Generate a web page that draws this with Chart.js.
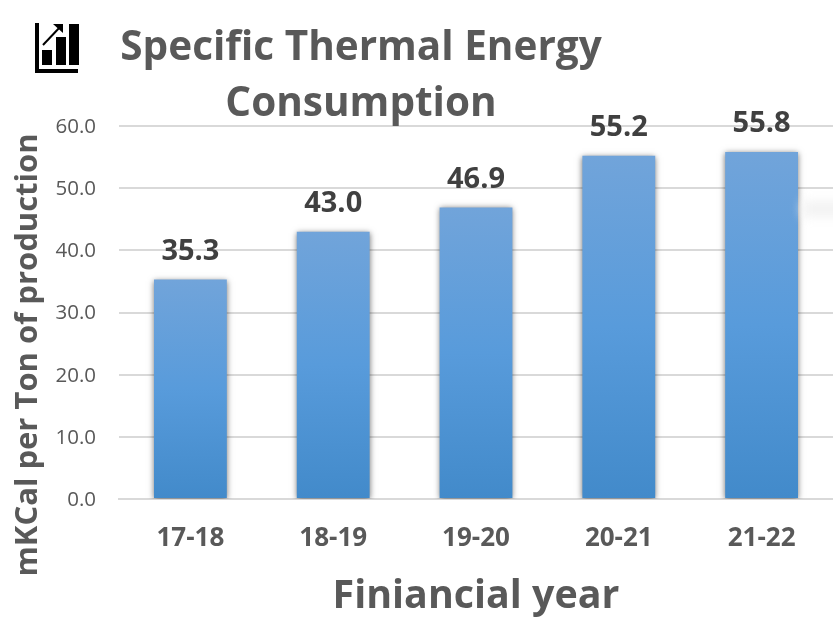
<!DOCTYPE html>
<html>
<head>
<meta charset="utf-8">
<title>Specific Thermal Energy Consumption</title>
<script src="https://cdn.jsdelivr.net/npm/chart.js@4"></script>
<style>
    html, body { margin: 0; padding: 0; background: #fff; }
    #wrap { position: relative; width: 833px; height: 620px; overflow: hidden; }
    #icon { position: absolute; left: 35px; top: 23px; }
    #smudge { position: absolute; left: 802px; top: 202px; width: 50px; height: 14px; background: #f1f1f1; filter: blur(6px); }
</style>
</head>
<body>
<div id="wrap">
    <canvas id="energyChart" width="833" height="620"></canvas>
    <div id="smudge"></div>
    <svg id="icon" width="45" height="50" viewBox="0 0 45 50">
        <path d="M2 0V48H43" fill="none" stroke="#000" stroke-width="4"/>
        <rect x="7" y="27" width="10" height="15"/>
        <rect x="21" y="14" width="10" height="28"/>
        <rect x="34" y="1" width="10" height="41"/>
        <path d="M8 22L26 3" fill="none" stroke="#000" stroke-width="2"/>
        <path d="M18 1H28V10Z"/>
    </svg>
</div>
<script>
const titleLines = ['Specific Thermal Energy', 'Consumption'];
const yAxisLabel = 'mKCal per Ton of production';
const xAxisLabel = 'Finiancial year';
const years = ['17-18', '18-19', '19-20', '20-21', '21-22'];
const consumption = [35.3, 43.0, 46.9, 55.2, 55.8];

const fontFamily = '"Open Sans", "Noto Sans", sans-serif';

// top-to-bottom blue fade, one gradient per bar
function barGradient(context) {
    const { chart, parsed } = context;
    if (!parsed || !chart.chartArea) return '#5b9bd5';
    const top = chart.scales.y.getPixelForValue(parsed.y);
    const bottom = chart.scales.y.getPixelForValue(0);
    const grad = chart.ctx.createLinearGradient(0, top, 0, bottom);
    grad.addColorStop(0, '#71a4da');
    grad.addColorStop(0.5, '#589bdb');
    grad.addColorStop(1, '#428aca');
    return grad;
}

const barShadow = {
    id: 'barShadow',
    beforeDatasetDraw(chart) {
        const ctx = chart.ctx;
        ctx.save();
        ctx.shadowColor = 'rgba(0,0,0,0.55)';
        ctx.shadowBlur = 6;
        ctx.shadowOffsetY = 1;
    },
    afterDatasetDraw(chart) {
        chart.ctx.restore();
    }
};

// heading, rotated axis label and the value above each bar
const chartText = {
    id: 'chartText',
    afterDraw(chart) {
        const ctx = chart.ctx;
        ctx.save();
        ctx.textAlign = 'center';
        ctx.textBaseline = 'middle';

        ctx.fillStyle = '#595959';
        ctx.font = 'bold 40.5px ' + fontFamily;
        ctx.fillText(titleLines[0], 361, 48);
        ctx.fillText(titleLines[1], 361, 104);

        ctx.save();
        ctx.translate(28, 355);
        ctx.rotate(-Math.PI / 2);
        ctx.font = 'bold 31px ' + fontFamily;
        ctx.fillText(yAxisLabel, 0, 0);
        ctx.restore();

        ctx.fillStyle = '#404040';
        ctx.font = 'bold 29px ' + fontFamily;
        chart.getDatasetMeta(0).data.forEach((bar, i) => {
            ctx.fillText(consumption[i].toFixed(1), bar.x, bar.y - 28);
        });
        ctx.restore();
    }
};

new Chart(document.getElementById('energyChart'), {
    type: 'bar',
    data: {
        labels: years,
        datasets: [{
            data: consumption,
            backgroundColor: barGradient,
            borderWidth: 0,
            categoryPercentage: 1,
            barPercentage: 0.51
        }]
    },
    plugins: [barShadow, chartText],
    options: {
        responsive: false,
        animation: false,
        layout: { padding: { top: 126, right: 0, left: 0, bottom: 0 } },
        plugins: { legend: { display: false }, tooltip: { enabled: false } },
        scales: {
            x: {
                afterFit(scale) { scale.height = 121; },
                grid: { display: false },
                border: { color: '#d9d9d9', width: 2 },
                ticks: {
                    color: '#595959',
                    padding: 16,
                    maxRotation: 0,
                    font: { family: fontFamily, size: 26, weight: 'bold' }
                },
                title: {
                    display: true,
                    text: xAxisLabel,
                    color: '#595959',
                    padding: { top: 19, bottom: 0 },
                    font: { family: fontFamily, size: 39.4, weight: 'bold' }
                }
            },
            y: {
                min: 0,
                max: 60,
                afterFit(scale) { scale.width = 119; },
                border: { display: false },
                grid: { color: '#d9d9d9', lineWidth: 2, drawTicks: false },
                ticks: {
                    stepSize: 10,
                    color: '#595959',
                    padding: 23,
                    labelOffset: 1,
                    callback: v => v.toFixed(1),
                    font: { family: fontFamily, size: 20.5 }
                }
            }
        }
    }
});
</script>
</body>
</html>
